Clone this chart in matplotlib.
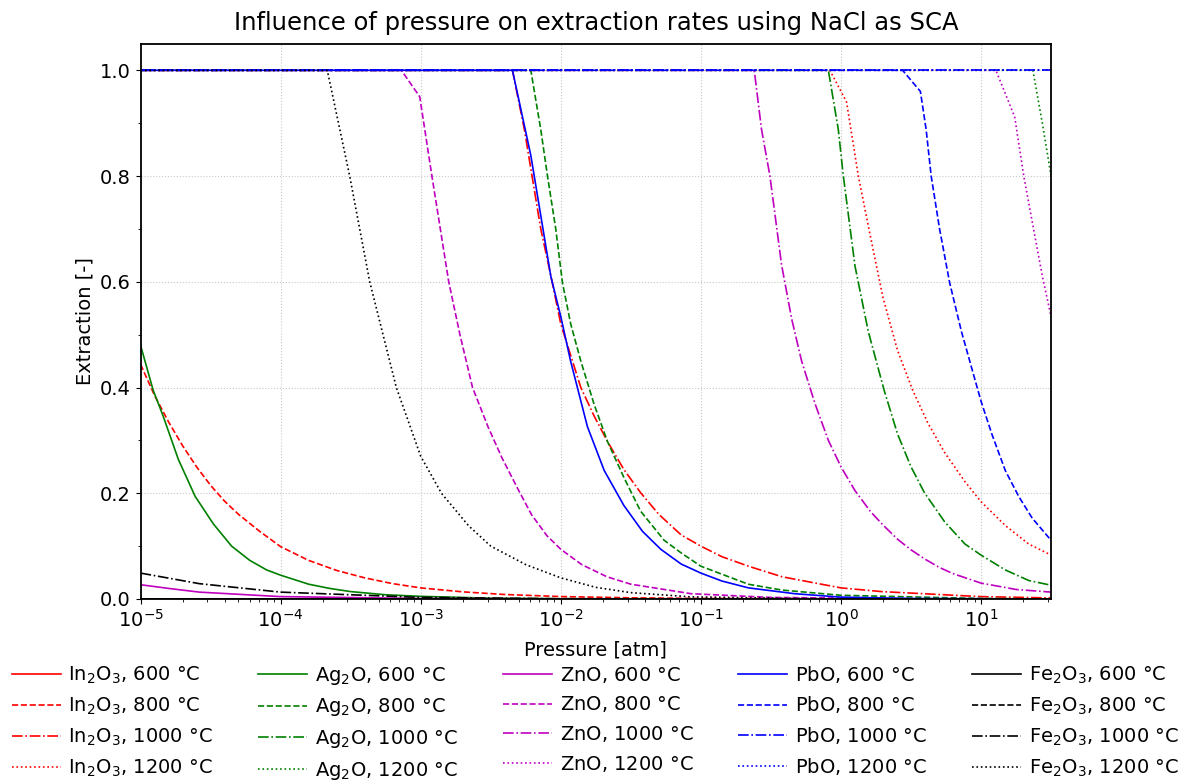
import matplotlib
matplotlib.use("Agg")
import matplotlib.pyplot as plt
import numpy as np
from matplotlib.ticker import MultipleLocator

# log10(pressure / atm) and extraction [-] per oxide, one list per temperature
temperatures = [600, 800, 1000, 1200]

in2o3_lp = [
    [-5, 1.5],
    [-5, -4.9, -4.8, -4.7, -4.6, -4.5, -4.4, -4.3, -4.15, -4.0, -3.8, -3.6, -3.4, -3.2, -3.0, -2.7, -2.4,
     -2.0, -1.5, -1.0, 0.0, 1.5],
    [-5, -2.345, -2.26, -2.143, -2.07, -2.0, -1.857, -1.76, -1.667, -1.55, -1.43, -1.3, -1.14, -1.0, -0.85,
     -0.66, -0.42, 0.0, 0.29, 1.0, 1.5],
    [-5, -0.079, 0.04, 0.124, 0.207, 0.30, 0.404, 0.512, 0.62, 0.74, 0.885, 1.0, 1.173, 1.34, 1.5],
]
in2o3_y = [
    [0.0, 0.0],
    [0.444, 0.385, 0.335, 0.29, 0.25, 0.215, 0.185, 0.16, 0.128, 0.099, 0.073, 0.054, 0.040, 0.029, 0.021,
     0.0135, 0.0085, 0.0046, 0.0022, 0.001, 0.0002, 0.0],
    [1.0, 1.0, 0.888, 0.70, 0.61, 0.52, 0.40, 0.345, 0.298, 0.245, 0.201, 0.16, 0.121, 0.10, 0.08, 0.062,
     0.042, 0.021, 0.014, 0.0045, 0.002],
    [1.0, 1.0, 0.94, 0.80, 0.69, 0.57, 0.47, 0.395, 0.333, 0.277, 0.222, 0.184, 0.139, 0.104, 0.083],
]

ag2o_lp = [
    [-5, -4.91, -4.84, -4.73, -4.61, -4.48, -4.35, -4.22, -4.10, -4.0, -3.8, -3.65, -3.5, -3.25, -3.0, -2.5,
     -2.0, -1.0, 1.5],
    [-5, -2.214, -2.143, -2.095, -2.036, -1.988, -1.929, -1.857, -1.762, -1.667, -1.548, -1.43, -1.262, -1.14,
     -1.0, -0.662, -0.424, 0.0, 1.0, 1.5],
    [-5, -0.09, -0.019, 0.017, 0.1, 0.195, 0.308, 0.404, 0.5, 0.596, 0.74, 0.885, 1.0, 1.173, 1.34, 1.5],
    [-5, 1.37, 1.4375, 1.5],
]
ag2o_y = [
    [0.48, 0.395, 0.347, 0.264, 0.194, 0.142, 0.10, 0.073, 0.055, 0.045, 0.028, 0.02, 0.014, 0.008, 0.005,
     0.0015, 0.0005, 0.0, 0.0],
    [1.0, 1.0, 0.888, 0.80, 0.70, 0.598, 0.52, 0.45, 0.368, 0.298, 0.229, 0.166, 0.111, 0.087, 0.062, 0.028,
     0.017, 0.007, 0.001, 0.0],
    [1.0, 1.0, 0.888, 0.80, 0.63, 0.506, 0.395, 0.312, 0.25, 0.201, 0.146, 0.104, 0.083, 0.055, 0.035, 0.026],
    [1.0, 1.0, 0.90, 0.80],
]

zno_lp = [
    [-5, -4.8, -4.58, -4.0, -3.0, -2.0, 1.5],
    [-5, -3.138, -3.007, -2.92, -2.80, -2.72, -2.63, -2.52, -2.42, -2.31, -2.21, -2.1, -2.0, -1.85, -1.67,
     -1.5, -1.07, -0.5, 0.5, 1.5],
    [-5, -0.619, -0.567, -0.507, -0.424, -0.352, -0.281, -0.186, -0.09, 0.0, 0.1, 0.212, 0.3, 0.404, 0.5,
     0.596, 0.7, 0.8, 1.0, 1.25, 1.5],
    [-5, 1.106, 1.24, 1.305, 1.365, 1.438, 1.5],
]
zno_y = [
    [0.027, 0.02, 0.013, 0.0045, 0.001, 0.0002, 0.0],
    [1.0, 1.0, 0.95, 0.80, 0.60, 0.50, 0.40, 0.326, 0.267, 0.21, 0.16, 0.12, 0.094, 0.065, 0.042, 0.028,
     0.01, 0.003, 0.0005, 0.0],
    [1.0, 1.0, 0.888, 0.80, 0.632, 0.53, 0.45, 0.37, 0.30, 0.25, 0.205, 0.165, 0.14, 0.113, 0.093, 0.076,
     0.06, 0.048, 0.03, 0.018, 0.013],
    [1.0, 1.0, 0.912, 0.80, 0.714, 0.61, 0.534],
]

pbo_lp = [
    [-5, -2.345, -2.214, -2.071, -2.0, -1.93, -1.81, -1.69, -1.55, -1.417, -1.286, -1.14, -1.0, -0.85, -0.66,
     -0.33, 0.0, 0.5, 1.5],
    [-5, 0.44, 0.567, 0.608, 0.644, 0.704, 0.776, 0.86, 0.933, 1.0, 1.077, 1.173, 1.269, 1.365, 1.5],
    [-5, 1.5],
    [-5, 1.5],
]
pbo_y = [
    [1.0, 1.0, 0.839, 0.61, 0.534, 0.45, 0.326, 0.243, 0.177, 0.128, 0.094, 0.066, 0.049, 0.034, 0.021,
     0.01, 0.0035, 0.001, 0.0],
    [1.0, 1.0, 0.96, 0.888, 0.80, 0.70, 0.598, 0.506, 0.437, 0.374, 0.312, 0.243, 0.194, 0.153, 0.111],
    [1.0, 1.0],
    [1.0, 1.0],
]

fe2o3_lp = [
    [-5, 1.5],
    [-5, 1.5],
    [-5, -4.58, -4.0, -3.0, -2.0, 1.5],
    [-5, -3.667, -3.507, -3.364, -3.174, -3.0, -2.852, -2.66, -2.5, -2.25, -2.0, -1.75, -1.5, -1.07, 0.0, 1.5],
]
fe2o3_y = [
    [0.0, 0.0],
    [0.0, 0.0],
    [0.049, 0.029, 0.013, 0.003, 0.0005, 0.0],
    [1.0, 1.0, 0.80, 0.60, 0.40, 0.27, 0.20, 0.139, 0.10, 0.065, 0.04, 0.022, 0.012, 0.004, 0.0, 0.0],
]

oxides = [
    (r'$\mathrm{In_2O_3}$', in2o3_lp, in2o3_y, 'r'),
    (r'$\mathrm{Ag_2O}$', ag2o_lp, ag2o_y, 'g'),
    (r'$\mathrm{ZnO}$', zno_lp, zno_y, 'm'),
    (r'$\mathrm{PbO}$', pbo_lp, pbo_y, 'b'),
    (r'$\mathrm{Fe_2O_3}$', fe2o3_lp, fe2o3_y, 'k'),
]
styles = ['-', '--', '-.', ':']

fig = plt.figure(figsize=(11.81, 7.83), dpi=100)
ax = fig.add_axes([0.119, 0.235, 0.771, 0.709])

for name, lps, ys, color in oxides:
    for t, lp, y, ls in zip(temperatures, lps, ys, styles):
        ax.plot(10.0 ** np.array(lp), y, color=color, linestyle=ls, linewidth=1.2,
                label=f'{name}, {t} °C')

ax.set_xscale('log')
ax.set_xlim(1e-5, 10 ** 1.5)
ax.set_ylim(0, 1.05)
ax.yaxis.set_minor_locator(MultipleLocator(0.1))
ax.grid(True, which='major', linestyle=':', color='#c8c8c8', linewidth=0.8)
ax.tick_params(labelsize=14)
for s in ax.spines.values():
    s.set_linewidth(1.3)

ax.set_xlabel('Pressure [atm]', fontsize=14, labelpad=7)
ax.set_ylabel('Extraction [-]', fontsize=14)
ax.set_title('Influence of pressure on extraction rates using NaCl as SCA', fontsize=17.5, pad=10)

fig.legend(loc='lower center', bbox_to_anchor=(0.504, -0.021), ncol=5, frameon=False, fontsize=14,
           handlelength=2.5, handletextpad=0.4, columnspacing=2.33, labelspacing=0.5)

fig.savefig('out.png', dpi=100)
